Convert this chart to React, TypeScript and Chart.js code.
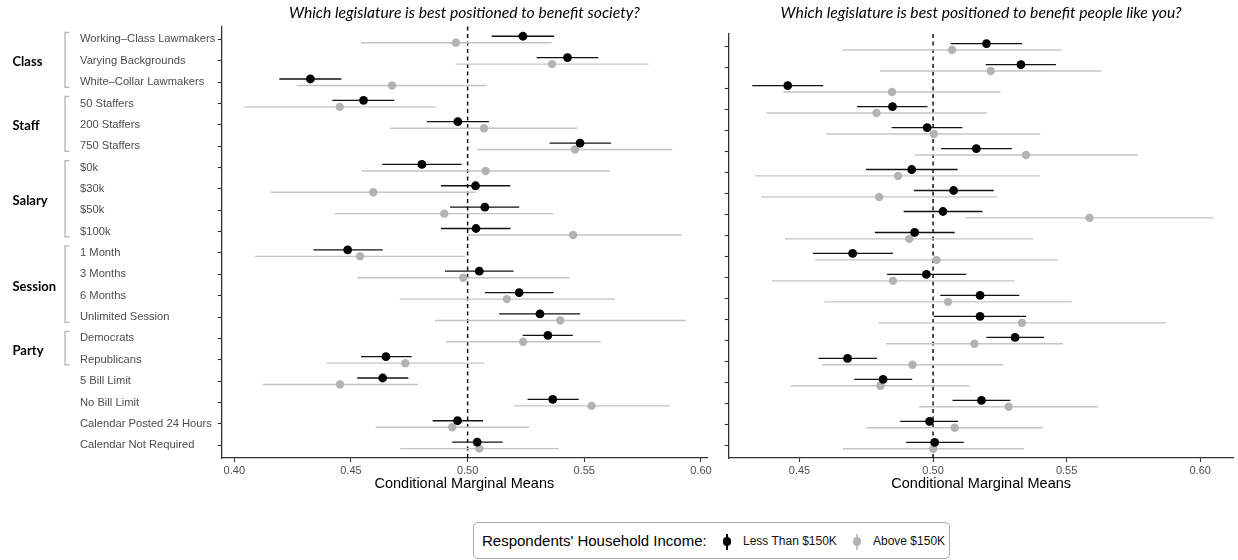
import React, { useEffect, useRef } from "react";
import { Chart, registerables } from "chart.js";

Chart.register(...registerables);

// ---------- data ----------
const categories = [
  "Working–Class Lawmakers",
  "Varying Backgrounds",
  "White–Collar Lawmakers",
  "50 Staffers",
  "200 Staffers",
  "750 Staffers",
  "$0k",
  "$30k",
  "$50k",
  "$100k",
  "1 Month",
  "3 Months",
  "6 Months",
  "Unlimited Session",
  "Democrats",
  "Republicans",
  "5 Bill Limit",
  "No Bill Limit",
  "Calendar Posted 24 Hours",
  "Calendar Not Required",
];

const groupNames = ["Class", "Staff", "Salary", "Session", "Party"];
const groupFirst = [1, 4, 7, 11, 15];
const groupLast = [3, 6, 10, 14, 16];

const leftTicks = [0.4, 0.45, 0.5, 0.55, 0.6];
const rightTicks = [0.45, 0.5, 0.55, 0.6];

const seriesLabels = ["Less Than $150K", "Above $150K"];

// Panel 1: benefit society — income < $150K
const societyLowEst = [0.5237, 0.5428, 0.4326, 0.4554, 0.4958, 0.5482, 0.4804, 0.5034, 0.5074, 0.5036, 0.4486, 0.5050, 0.5221, 0.5310, 0.5344, 0.4650, 0.4636, 0.5365, 0.4957, 0.5041];
const societyLowLo = [0.5103, 0.5296, 0.4193, 0.4420, 0.4826, 0.5351, 0.4634, 0.4886, 0.4925, 0.4886, 0.4339, 0.4903, 0.5074, 0.5135, 0.5236, 0.4543, 0.4527, 0.5257, 0.4850, 0.4934];
const societyLowHi = [0.5371, 0.5560, 0.4459, 0.4686, 0.5091, 0.5614, 0.4974, 0.5183, 0.5221, 0.5184, 0.4636, 0.5197, 0.5368, 0.5482, 0.5451, 0.4760, 0.4746, 0.5476, 0.5066, 0.5150];

// Panel 1: benefit society — income > $150K
const societyHighEst = [0.4950, 0.5362, 0.4676, 0.4452, 0.5070, 0.5460, 0.5077, 0.4596, 0.4900, 0.5452, 0.4539, 0.4981, 0.5168, 0.5397, 0.5238, 0.4733, 0.4453, 0.5531, 0.4934, 0.5050];
const societyHighLo = [0.4542, 0.4949, 0.4267, 0.4043, 0.4668, 0.5041, 0.4546, 0.4156, 0.4430, 0.5001, 0.4088, 0.4526, 0.4709, 0.4860, 0.4907, 0.4396, 0.4122, 0.5198, 0.4606, 0.4711];
const societyHighHi = [0.5360, 0.5775, 0.5081, 0.4863, 0.5470, 0.5877, 0.5610, 0.5034, 0.5368, 0.5917, 0.4991, 0.5437, 0.5631, 0.5935, 0.5570, 0.5073, 0.4787, 0.5867, 0.5264, 0.5391];

// Panel 2: benefit people like you — income < $150K
const peopleLowEst = [0.5200, 0.5329, 0.4456, 0.4848, 0.4978, 0.5162, 0.4920, 0.5077, 0.5037, 0.4931, 0.4699, 0.4975, 0.5176, 0.5176, 0.5307, 0.4680, 0.4813, 0.5181, 0.4987, 0.5006];
const peopleLowLo = [0.5066, 0.5197, 0.4323, 0.4715, 0.4845, 0.5030, 0.4749, 0.4928, 0.4890, 0.4782, 0.4550, 0.4828, 0.5027, 0.5003, 0.5200, 0.4571, 0.4705, 0.5073, 0.4877, 0.4899];
const peopleLowHi = [0.5333, 0.5460, 0.4589, 0.4979, 0.5110, 0.5295, 0.5092, 0.5227, 0.5185, 0.5081, 0.4850, 0.5124, 0.5323, 0.5348, 0.5416, 0.4790, 0.4922, 0.5289, 0.5094, 0.5115];

// Panel 2: benefit people like you — income > $150K
const peopleHighEst = [0.5071, 0.5216, 0.4846, 0.4788, 0.5003, 0.5348, 0.4869, 0.4798, 0.5586, 0.4911, 0.5013, 0.4850, 0.5056, 0.5333, 0.5155, 0.4923, 0.4803, 0.5283, 0.5081, 0.5001];
const peopleHighLo = [0.4662, 0.4802, 0.4439, 0.4377, 0.4601, 0.4931, 0.4334, 0.4356, 0.5120, 0.4446, 0.4558, 0.4396, 0.4594, 0.4796, 0.4824, 0.4586, 0.4468, 0.4948, 0.4751, 0.4662];
const peopleHighHi = [0.5480, 0.5630, 0.5252, 0.5200, 0.5401, 0.5766, 0.5401, 0.5239, 0.6051, 0.5375, 0.5467, 0.5305, 0.5519, 0.5873, 0.5487, 0.5263, 0.5136, 0.5618, 0.5410, 0.5340];

// ---------- styling ----------
const ROWS = categories.map((_, i) => i + 1);
const LOW_SHIFT = -0.145;
const HIGH_SHIFT = 0.16;
const BLACK = "#000000";
const GREY_PT = "#b3b3b3";
const GREY_LINE = "#c4c4c4";
const AXIS = "#333333";
const TICK_TXT = "#4d4d4d";
const SANS = "'Liberation Sans', Arial, Helvetica, sans-serif";

const refLinePlugin = {
  id: "refAndBars",
  beforeDatasetsDraw(chart: any) {
    const { ctx, chartArea, scales } = chart;
    const x = scales.x;
    const xr = x.getPixelForValue(0.5);
    ctx.save();
    ctx.beginPath();
    ctx.setLineDash([4, 3.5]);
    ctx.lineWidth = 1.4;
    ctx.strokeStyle = "#000";
    ctx.moveTo(xr, chartArea.top);
    ctx.lineTo(xr, chartArea.bottom);
    ctx.stroke();
    ctx.restore();
    for (let d = chart.data.datasets.length - 1; d >= 0; d--) {
      const ds = chart.data.datasets[d];
      const meta = chart.getDatasetMeta(d);
      ctx.save();
      ctx.setLineDash([]);
      ctx.strokeStyle = ds.errColor;
      ctx.lineWidth = ds.errWidth;
      meta.data.forEach((el: any, i: number) => {
        ctx.beginPath();
        ctx.moveTo(x.getPixelForValue(ds.errLo[i]), el.y);
        ctx.lineTo(x.getPixelForValue(ds.errHi[i]), el.y);
        ctx.stroke();
      });
      ctx.restore();
    }
  },
};

const groupPlugin = {
  id: "groupBrackets",
  afterDraw(chart: any) {
    const { ctx } = chart;
    const y = chart.scales.y;
    groupNames.forEach((name, g) => {
      const y1 = y.getPixelForValue(groupFirst[g] - 0.32);
      const y2 = y.getPixelForValue(groupLast[g] + 0.24);
      ctx.save();
      ctx.strokeStyle = "#bdbdbd";
      ctx.lineWidth = 1.5;
      ctx.beginPath();
      ctx.moveTo(69.5, y1);
      ctx.lineTo(65, y1);
      ctx.lineTo(65, y2);
      ctx.lineTo(69.5, y2);
      ctx.stroke();
      const ym = y.getPixelForValue((groupFirst[g] + groupLast[g]) / 2) + 1.5;
      ctx.font = "bold 13px Lato";
      ctx.fillStyle = "#000";
      ctx.textAlign = "left";
      ctx.textBaseline = "middle";
      ctx.fillText(name, 12.5, ym);
      ctx.restore();
    });
  },
};

type PanelProps = {
  width: number;
  height: number;
  left: number;
  title: string;
  titleBottom: number;
  padLeft: number;
  padRight: number;
  yWidth: number;
  showLabels: boolean;
  xMin: number;
  xMax: number;
  xTicks: number[];
  lowEst: number[];
  lowLo: number[];
  lowHi: number[];
  highEst: number[];
  highLo: number[];
  highHi: number[];
  groups: boolean;
};

function Panel(p: PanelProps) {
  const ref = useRef<HTMLCanvasElement | null>(null);
  useEffect(() => {
    if (!ref.current) return;
    const chart = new Chart(ref.current, {
      type: "scatter",
      data: {
        datasets: [
          {
            label: seriesLabels[0],
            data: p.lowEst.map((v, i) => ({ x: v, y: ROWS[i] + LOW_SHIFT })),
            pointRadius: 4.4,
            pointBackgroundColor: BLACK,
            pointBorderWidth: 0,
            errLo: p.lowLo,
            errHi: p.lowHi,
            errColor: "#111",
            errWidth: 1.3,
          } as any,
          {
            label: seriesLabels[1],
            data: p.highEst.map((v, i) => ({ x: v, y: ROWS[i] + HIGH_SHIFT })),
            pointRadius: 4.2,
            pointBackgroundColor: GREY_PT,
            pointBorderWidth: 0,
            errLo: p.highLo,
            errHi: p.highHi,
            errColor: GREY_LINE,
            errWidth: 1.4,
          } as any,
        ],
      },
      options: {
        responsive: false,
        animation: false,
        devicePixelRatio: 1,
        events: [],
        layout: { padding: { left: p.padLeft, right: p.padRight, top: 0, bottom: 0 } },
        plugins: {
          legend: { display: false },
          tooltip: { enabled: false },
          title: {
            display: true,
            text: p.title,
            fullSize: false,
            color: "#000",
            font: { family: "Lato", style: "italic", size: 15.7, weight: "normal" },
            padding: { top: 4, bottom: p.titleBottom },
          },
        },
        scales: {
          x: {
            type: "linear",
            min: p.xMin,
            max: p.xMax,
            afterBuildTicks: (s: any) => {
              s.ticks = p.xTicks.map((v) => ({ value: v }));
            },
            afterFit: (s: any) => {
              s.height = 42;
            },
            grid: {
              display: true,
              drawOnChartArea: false,
              drawTicks: true,
              tickLength: 4,
              tickColor: AXIS,
              tickWidth: 1.1,
            },
            border: { display: true, color: AXIS, width: 1.3 },
            ticks: {
              callback: (v: any) => Number(v).toFixed(2),
              color: TICK_TXT,
              font: { family: SANS, size: 11 },
              padding: 2,
              maxRotation: 0,
              autoSkip: false,
            },
            title: {
              display: true,
              text: "Conditional Marginal Means",
              color: "#000",
              font: { family: SANS, size: 14.5 },
              padding: { top: 0, bottom: 7.5 },
            },
          },
          y: {
            type: "linear",
            reverse: true,
            min: 0.4,
            max: categories.length + 0.6,
            afterBuildTicks: (s: any) => {
              s.ticks = ROWS.map((v) => ({ value: v }));
            },
            afterFit: (s: any) => {
              s.width = p.yWidth;
            },
            grid: {
              display: true,
              drawOnChartArea: false,
              drawTicks: true,
              tickLength: 4,
              tickColor: AXIS,
              tickWidth: 1.1,
            },
            border: { display: true, color: AXIS, width: 1.3 },
            ticks: {
              display: p.showLabels,
              autoSkip: false,
              crossAlign: "far",
              padding: 3,
              color: TICK_TXT,
              font: { family: SANS, size: 11.2 },
              callback: (v: any) => categories[Math.round(Number(v)) - 1],
            },
          },
        },
      } as any,
      plugins: p.groups ? [refLinePlugin, groupPlugin] : [refLinePlugin],
    });
    return () => chart.destroy();
  }, []);
  return (
    <canvas
      ref={ref}
      width={p.width}
      height={p.height}
      style={{ position: "absolute", left: p.left, top: 0, width: p.width, height: p.height }}
    />
  );
}

function LegendKey({ x, color, lineColor }: { x: number; color: string; lineColor: string }) {
  return (
    <>
      <div style={{ position: "absolute", left: x - 0.75, top: 533.5, width: 1.5, height: 16, background: lineColor }} />
      <div
        style={{
          position: "absolute",
          left: x - 4.2,
          top: 541.5 - 4.2,
          width: 8.4,
          height: 8.4,
          borderRadius: "50%",
          background: color,
        }}
      />
    </>
  );
}

export default function App() {
  return (
    <div
      style={{
        position: "absolute",
        left: 0,
        top: 0,
        width: 1238,
        height: 560,
        background: "#fff",
        overflow: "hidden",
        fontFamily: SANS,
      }}
    >
      <Panel
        width={720}
        height={500}
        left={0}
        title="Which legislature is best positioned to benefit society?"
        titleBottom={3.7}
        padLeft={80}
        padRight={13}
        yWidth={141.7}
        showLabels={true}
        xMin={0.3946}
        xMax={0.6026}
        xTicks={leftTicks}
        lowEst={societyLowEst}
        lowLo={societyLowLo}
        lowHi={societyLowHi}
        highEst={societyHighEst}
        highLo={societyHighLo}
        highHi={societyHighHi}
        groups={true}
      />
      <Panel
        width={518}
        height={500}
        left={720}
        title="Which legislature is best positioned to benefit people like you?"
        titleBottom={11.2}
        padLeft={0}
        padRight={1}
        yWidth={8.7}
        showLabels={false}
        xMin={0.4235}
        xMax={0.6125}
        xTicks={rightTicks}
        lowEst={peopleLowEst}
        lowLo={peopleLowLo}
        lowHi={peopleLowHi}
        highEst={peopleHighEst}
        highLo={peopleHighLo}
        highHi={peopleHighHi}
        groups={false}
      />
      <div
        style={{
          position: "absolute",
          left: 473,
          top: 522,
          width: 477,
          height: 37,
          border: "1.5px solid #aaaaaa",
          borderRadius: 5,
          boxSizing: "border-box",
        }}
      />
      <div style={{ position: "absolute", left: 482, top: 532, fontSize: 15, lineHeight: "18px", color: "#000", whiteSpace: "nowrap" }}>
        Respondents' Household Income:
      </div>
      <LegendKey x={727} color="#000" lineColor="#000" />
      <div style={{ position: "absolute", left: 743, top: 534, fontSize: 12, lineHeight: "15px", color: "#111", whiteSpace: "nowrap" }}>
        {seriesLabels[0]}
      </div>
      <LegendKey x={857} color={GREY_PT} lineColor={GREY_LINE} />
      <div style={{ position: "absolute", left: 873, top: 534, fontSize: 12, lineHeight: "15px", color: "#111", whiteSpace: "nowrap" }}>
        {seriesLabels[1]}
      </div>
    </div>
  );
}
